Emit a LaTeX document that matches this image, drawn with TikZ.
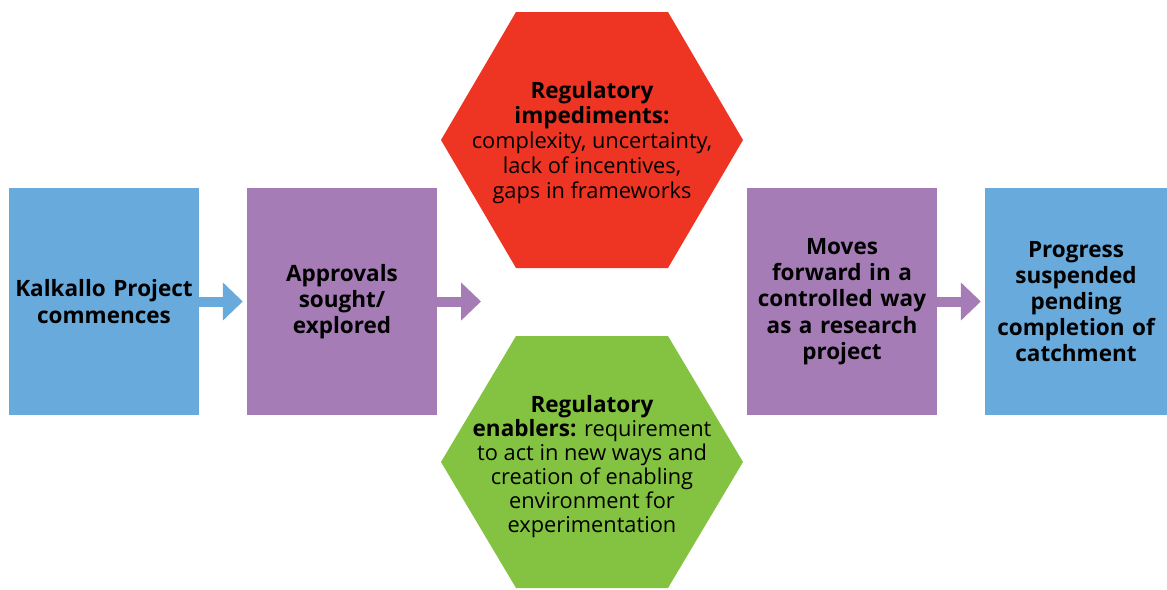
\documentclass[tikz,border=0pt]{standalone}
\usepackage{fontspec}
\setmainfont{Open Sans}
\usetikzlibrary{arrows.meta,positioning}
\definecolor{boxblue}{HTML}{68AADC}
\definecolor{boxpurple}{HTML}{A67CB6}
\definecolor{hexred}{HTML}{EE3524}
\definecolor{hexgreen}{HTML}{84C341}
\newcommand{\hexhead}[1]{{\fontsize{22.5}{25}\selectfont\bfseries #1}}
\tikzset{
  stage/.style={minimum width=190pt, minimum height=227pt, inner sep=0pt, text width=180pt, align=center, font=\fontsize{22.5}{26.2}\selectfont\bfseries},
  hextext/.style={inner sep=0pt, align=center, font=\fontsize{21.8}{25}\selectfont},
  flow/.style={line width=10pt, -{Triangle[width=37pt,length=20pt]}},
}
\begin{document}
\begin{tikzpicture}[x=1pt,y=-1pt]
    \useasboundingbox (0,0) rectangle (1167,589);
    % boxes
    \node[stage, fill=boxblue] (kalkallo) at (104,301.5) {Kalkallo Project\\commences};
    \node[stage, fill=boxpurple] (approvals) at (342,301.5) {Approvals\\sought/\\explored};
    \node[stage, fill=boxpurple] (moves) at (842,301.5) {Moves\\forward in a\\controlled way\\as a research\\project};
    \node[stage, fill=boxblue, minimum width=182pt, text width=176pt] (progress) at (1076,301.5) {Progress\\suspended\\pending\\completion of\\catchment};

    % hexagons
    \fill[hexred] (516,12) -- (668,12) -- (743,140) -- (668,268) -- (516,268) -- (441,140) -- cycle;
    \fill[hexgreen] (516,336) -- (668,336) -- (743,462) -- (668,588) -- (516,588) -- (441,462) -- cycle;
    \node[hextext] (impediments) at (592,143) {\hexhead{Regulatory}\\\hexhead{impediments:}\\complexity, uncertainty,\\lack of incentives,\\gaps in frameworks};
    \node[hextext, font=\fontsize{21.8}{24}\selectfont] (enablers) at (592,467) {\hexhead{Regulatory}\\\hexhead{enablers:} requirement\\to act in new ways and\\creation of enabling\\environment for\\experimentation};

    % arrows
    \coordinate (split) at (481,301.5);
    \draw[flow, boxblue, shorten >=4pt] (kalkallo) -- (approvals);
    \draw[flow, boxpurple] (approvals) -- (split);
    \draw[flow, boxpurple, shorten >=4pt] (moves) -- (progress);
\end{tikzpicture}
\end{document}
